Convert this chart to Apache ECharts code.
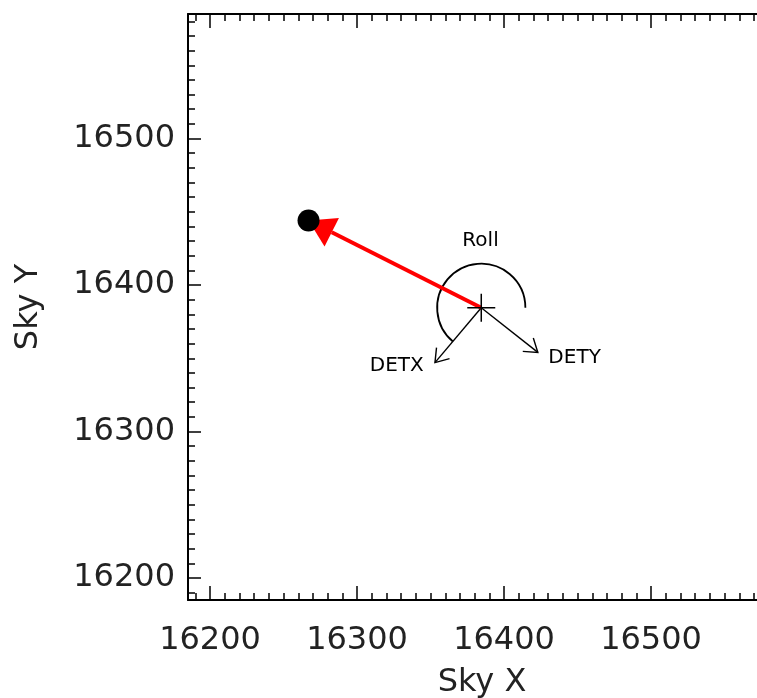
<!DOCTYPE html>
<html>
<head>
<meta charset="utf-8">
<script src="https://cdn.jsdelivr.net/npm/echarts@6/dist/echarts.min.js"></script>
<style>
html, body { margin: 0; padding: 0; background: #fff; }
#main { width: 757px; height: 698px; }
</style>
</head>
<body>
<div id="main"></div>
<script>
// axis range in sky pixels
var axisMin = 16185;
var axisMax = 16585;
var tickLabels = [16200, 16300, 16400, 16500];

// pointing (the + marker) and source (black dot)
var starPos = [16384.5, 16384.5];
var srcPos = [16267, 16444];

// detector axis arrows, from the + outwards
var detxEnd = [16353, 16347];
var detyEnd = [16423, 16354];

// roll arc round the +
var rollRadius = 30;
var rollAngles = [0, 230];   // degrees, anticlockwise from +x

// text labels
var labelNames = ['Roll', 'DETX', 'DETY'];
var labelPos = [[16384, 16430], [16327, 16345], [16448, 16350]];

var font = 'DejaVu Sans';

// arrow drawn with the axes' own coord()
function makeArrow(lineWidth, color, headLen, headHalf, filled) {
  return function (params, api) {
    var p0 = api.coord([api.value(0), api.value(1)]);
    var p1 = api.coord([api.value(2), api.value(3)]);
    var dx = p1[0] - p0[0], dy = p1[1] - p0[1];
    var len = Math.sqrt(dx * dx + dy * dy);
    var ux = dx / len, uy = dy / len;
    var bx = p1[0] - ux * headLen, by = p1[1] - uy * headLen;
    var a = [bx - uy * headHalf, by + ux * headHalf];
    var b = [bx + uy * headHalf, by - ux * headHalf];
    var children = [];
    if (filled) {
      children.push({
        type: 'line',
        shape: { x1: p0[0], y1: p0[1], x2: bx, y2: by },
        style: { stroke: color, lineWidth: lineWidth }
      });
      children.push({
        type: 'polygon',
        shape: { points: [p1, a, b] },
        style: { fill: color }
      });
    } else {
      children.push({
        type: 'line',
        shape: { x1: p0[0], y1: p0[1], x2: p1[0], y2: p1[1] },
        style: { stroke: color, lineWidth: lineWidth }
      });
      children.push({
        type: 'polyline',
        shape: { points: [a, p1, b] },
        style: { stroke: color, lineWidth: lineWidth, fill: null }
      });
    }
    return { type: 'group', children: children };
  };
}

function xAxisDef(pos, split, tickLen, main) {
  return {
    type: 'value',
    position: pos,
    min: axisMin,
    max: axisMax,
    splitNumber: split,
    axisLine: { show: main, onZero: false, lineStyle: { color: '#000', width: 2 } },
    axisTick: { inside: true, length: tickLen, lineStyle: { color: '#000', width: 1.5 } },
    axisLabel: {
      show: main && pos === 'bottom',
      fontSize: 32,
      fontFamily: font,
      color: '#222',
      margin: 25,
      formatter: function (v) { return tickLabels.indexOf(v) >= 0 ? String(v) : ''; }
    },
    splitLine: { show: false },
    name: (main && pos === 'bottom') ? 'Sky X' : '',
    nameLocation: 'middle',
    nameGap: 67,
    nameTextStyle: { fontSize: 32, fontFamily: font, color: '#222' }
  };
}

function yAxisDef(pos, split, tickLen, main) {
  return {
    type: 'value',
    position: pos,
    min: axisMin,
    max: axisMax,
    splitNumber: split,
    axisLine: { show: main, onZero: false, lineStyle: { color: '#000', width: 2 } },
    axisTick: { inside: true, length: tickLen, lineStyle: { color: '#000', width: 1.5 } },
    axisLabel: {
      show: main && pos === 'left',
      fontSize: 32,
      fontFamily: font,
      color: '#222',
      margin: 13,
      formatter: function (v) { return tickLabels.indexOf(v) >= 0 ? String(v) : ''; }
    },
    splitLine: { show: false },
    name: (main && pos === 'left') ? 'Sky Y' : '',
    nameLocation: 'middle',
    nameGap: 143,
    nameTextStyle: { fontSize: 32, fontFamily: font, color: '#222' }
  };
}

var myChart = echarts.init(document.getElementById('main'));

var option = {
  backgroundColor: '#fff',
  animation: false,
  grid: { left: 188, top: 14, width: 588, height: 586, outerBoundsMode: 'none', containLabel: false },
  xAxis: [
    xAxisDef('bottom', 4, 14, true),
    xAxisDef('bottom', 40, 7, false),
    xAxisDef('top', 4, 14, true),
    xAxisDef('top', 40, 7, false)
  ],
  yAxis: [
    yAxisDef('left', 4, 13, true),
    yAxisDef('left', 40, 7, false),
    yAxisDef('right', 4, 13, true),
    yAxisDef('right', 40, 7, false)
  ],
  series: [
    {
      // roll arc
      type: 'custom',
      data: [starPos],
      renderItem: function (params, api) {
        var c = api.coord([api.value(0), api.value(1)]);
        var r = api.size([rollRadius, 0])[0];
        return {
          type: 'arc',
          shape: {
            cx: c[0], cy: c[1], r: r,
            startAngle: -rollAngles[1] * Math.PI / 180,
            endAngle: -rollAngles[0] * Math.PI / 180,
            clockwise: true
          },
          style: { stroke: '#000', lineWidth: 1.8, fill: null }
        };
      }
    },
    {
      // DETX / DETY
      type: 'custom',
      data: [starPos.concat(detxEnd), starPos.concat(detyEnd)],
      renderItem: makeArrow(1.4, '#000', 12.5, 8.5, false)
    },
    {
      // the + marker
      type: 'scatter',
      data: [starPos],
      symbol: 'path://M0,-1L0,1M-1,0L1,0',
      symbolSize: 28,
      itemStyle: { color: 'rgba(0,0,0,0)', borderColor: '#000', borderWidth: 1.5, opacity: 1 }
    },
    {
      // source
      type: 'scatter',
      data: [srcPos],
      symbol: 'circle',
      symbolSize: 22,
      itemStyle: { color: '#000', opacity: 1 }
    },
    {
      // offset arrow
      type: 'custom',
      data: [starPos.concat(srcPos)],
      renderItem: makeArrow(4, '#ff0000', 26, 16, true)
    },
    {
      // text
      type: 'custom',
      data: labelPos.map(function (p, i) { return [p[0], p[1], i]; }),
      renderItem: function (params, api) {
        var c = api.coord([api.value(0), api.value(1)]);
        return {
          type: 'text',
          x: c[0], y: c[1],
          style: {
            text: labelNames[api.value(2)],
            font: '20px "DejaVu Sans"',
            fill: '#000',
            align: 'center',
            verticalAlign: 'middle'
          }
        };
      }
    }
  ]
};

myChart.setOption(option);
</script>
</body>
</html>
